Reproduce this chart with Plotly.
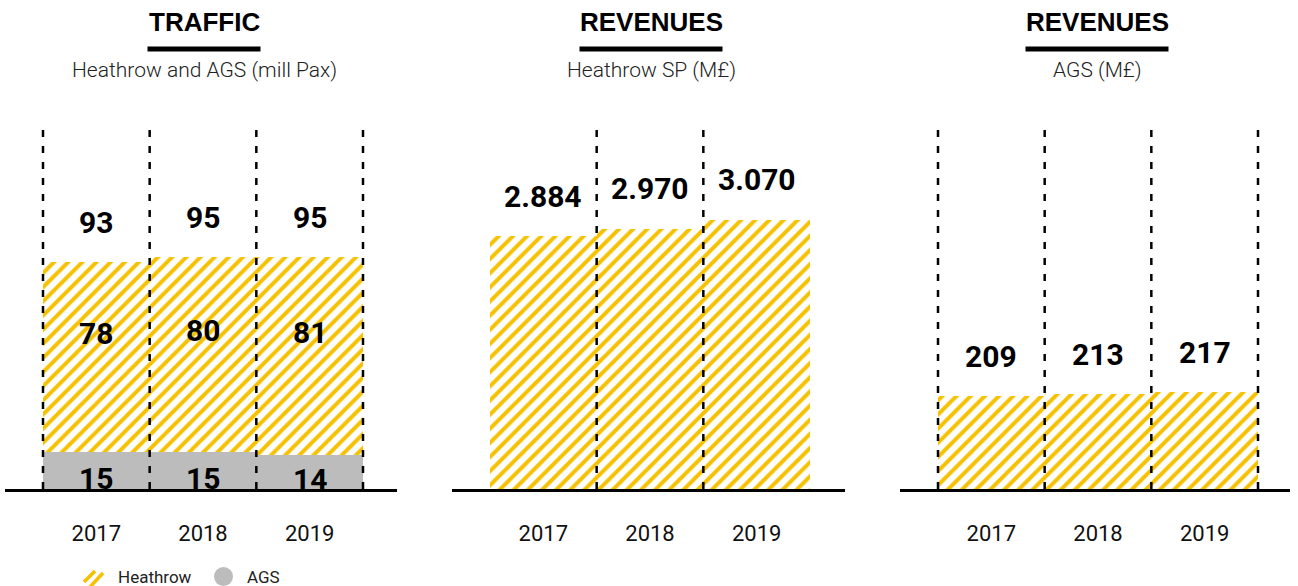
import plotly.graph_objects as go

# ---------------- data ----------------
years = ["2017", "2018", "2019"]
traffic_heathrow = [78, 80, 81]
traffic_ags = [15, 15, 14]
traffic_total = [93, 95, 95]
rev_heathrow = [2884, 2970, 3070]
rev_heathrow_labels = ["2.884", "2.970", "3.070"]
rev_ags = [209, 213, 217]

titles = ["TRAFFIC", "REVENUES", "REVENUES"]
subtitles = ["Heathrow and AGS (mill Pax)", "Heathrow SP (M£)", "AGS (M£)"]
legend_names = ["Heathrow", "AGS"]

# ---------------- style ----------------
W, H = 1298, 586
YELLOW = "#F5C100"
GRAY = "#BBBCBB"
NUMFONT = "Roboto, Liberation Sans, Arial, sans-serif"
SANS = "Liberation Sans, Arial, Helvetica, sans-serif"
BASE = 489      # baseline pixel row
DASH_TOP = 128  # top of dashed separators

def pxx(p):
    return p / W

def pxy(p):
    return 1 - p / H

panels = [
    dict(x0=5, x1=397, bar0=43, bar1=363, ppu=2.44, center=204, tw=113, dashes=[-0.5, 0.5, 1.5, 2.5]),
    dict(x0=452, x1=845, bar0=490, bar1=810, ppu=0.0877, center=651, tw=143, dashes=[0.5, 1.5]),
    dict(x0=900, x1=1290, bar0=938, bar1=1258, ppu=0.445, center=1097, tw=143, dashes=[-0.5, 0.5, 1.5, 2.5]),
]

idx = list(range(len(years)))
fig = go.Figure()

hatch = dict(color=YELLOW, line=dict(width=0),
             pattern=dict(shape="/", size=10, solidity=0.4, bgcolor="white", fgcolor=YELLOW, fgopacity=1))

# Panel 1: stacked traffic
fig.add_trace(go.Bar(x=idx, y=traffic_ags, width=1, marker=dict(color=GRAY, line=dict(width=0)),
                     name=legend_names[1], xaxis="x", yaxis="y", hoverinfo="skip"))
fig.add_trace(go.Bar(x=idx, y=traffic_heathrow, width=1, marker=hatch,
                     name=legend_names[0], xaxis="x", yaxis="y", hoverinfo="skip"))
# Panel 2
fig.add_trace(go.Bar(x=idx, y=rev_heathrow, width=1, marker=hatch,
                     name="Heathrow SP", xaxis="x2", yaxis="y2", hoverinfo="skip"))
# Panel 3
fig.add_trace(go.Bar(x=idx, y=rev_ags, width=1, marker=hatch,
                     name="AGS rev", xaxis="x3", yaxis="y3", hoverinfo="skip"))

layout = dict(
    width=W, height=H, margin=dict(l=0, r=0, t=0, b=0),
    paper_bgcolor="white", plot_bgcolor="white",
    barmode="stack", bargap=0, showlegend=False,
)

shapes = []
annotations = []
lab_font = dict(family=NUMFONT, size=30, color="black", weight="bold")

for i, p in enumerate(panels):
    sfx = "" if i == 0 else str(i + 1)
    unit = (p["bar1"] - p["bar0"]) / 3
    left = -0.5 - (p["bar0"] - p["x0"]) / unit
    right = 2.5 + (p["x1"] - p["bar1"]) / unit
    layout["xaxis" + sfx] = dict(
        domain=[pxx(p["x0"]), pxx(p["x1"])], range=[left, right],
        anchor="y" + sfx, tickmode="array", tickvals=idx, ticktext=years,
        tickfont=dict(family=NUMFONT, size=22, color="#111"), ticks="",
        ticklabelstandoff=23,
        showline=True, linecolor="black", linewidth=2.5,
        showgrid=False, zeroline=False, fixedrange=True,
    )
    layout["yaxis" + sfx] = dict(
        domain=[pxy(BASE), 1], range=[0, BASE / p["ppu"]], anchor="x" + sfx,
        visible=False, fixedrange=True,
    )
    for d in p["dashes"]:
        shapes.append(dict(type="line", xref="x" + sfx, yref="y" + sfx + " domain",
                           x0=d, x1=d, y0=0, y1=(BASE - DASH_TOP) / BASE,
                           line=dict(color="black", width=2.5, dash="7px,9px"), layer="above"))
    # titles
    annotations.append(dict(xref="paper", yref="paper", x=pxx(p["center"]), y=pxy(22),
                            text="<b>" + titles[i] + "</b>", showarrow=False,
                            font=dict(family=SANS, size=26, color="black"),
                            xanchor="center", yanchor="middle"))
    shapes.append(dict(type="rect", xref="paper", yref="paper",
                       x0=pxx(p["center"] - p["tw"] / 2), x1=pxx(p["center"] + p["tw"] / 2),
                       y0=pxy(51.5), y1=pxy(46.5), fillcolor="black", line=dict(width=0)))
    annotations.append(dict(xref="paper", yref="paper", x=pxx(p["center"]), y=pxy(70),
                            text=subtitles[i], showarrow=False,
                            font=dict(family="Roboto", size=21, weight=300, color="#222"),
                            xanchor="center", yanchor="middle"))

# value labels
for j in idx:
    annotations.append(dict(xref="x", yref="y", x=j, y=traffic_total[j], yshift=40,
                            text="%d" % traffic_total[j], showarrow=False, font=lab_font))
    annotations.append(dict(xref="x", yref="y", x=j, y=traffic_ags[j] + traffic_heathrow[j] / 2, yshift=24,
                            text="%d" % traffic_heathrow[j], showarrow=False, font=lab_font))
    annotations.append(dict(xref="x", yref="y", x=j, y=traffic_ags[j] / 2, yshift=-8,
                            text="%d" % traffic_ags[j], showarrow=False, font=lab_font))
    annotations.append(dict(xref="x2", yref="y2", x=j, y=rev_heathrow[j], yshift=40,
                            text=rev_heathrow_labels[j], showarrow=False, font=lab_font))
    annotations.append(dict(xref="x3", yref="y3", x=j, y=rev_ags[j], yshift=40,
                            text="%d" % rev_ags[j], showarrow=False, font=lab_font))

# legend (manual)
for (ax0, ay0, ax1, ay1) in [(84, 582, 95, 571), (90, 587, 103, 573)]:
    shapes.append(dict(type="line", xref="paper", yref="paper",
                       x0=pxx(ax0), y0=pxy(ay0), x1=pxx(ax1), y1=pxy(ay1),
                       line=dict(color=YELLOW, width=3.5)))
shapes.append(dict(type="circle", xref="paper", yref="paper",
                   x0=pxx(214), x1=pxx(233), y0=pxy(586), y1=pxy(567),
                   fillcolor=GRAY, line=dict(width=0)))
annotations.append(dict(xref="paper", yref="paper", x=pxx(116), y=pxy(577), text=legend_names[0],
                        showarrow=False, xanchor="left", yanchor="middle",
                        font=dict(family=NUMFONT, size=17, color="#222")))
annotations.append(dict(xref="paper", yref="paper", x=pxx(245), y=pxy(577), text=legend_names[1],
                        showarrow=False, xanchor="left", yanchor="middle",
                        font=dict(family=NUMFONT, size=17, color="#222")))

layout["shapes"] = shapes
layout["annotations"] = annotations
fig.update_layout(**layout)
fig.write_html("out.html", config={"displayModeBar": False},
               post_script="document.body.style.margin='0px';")
